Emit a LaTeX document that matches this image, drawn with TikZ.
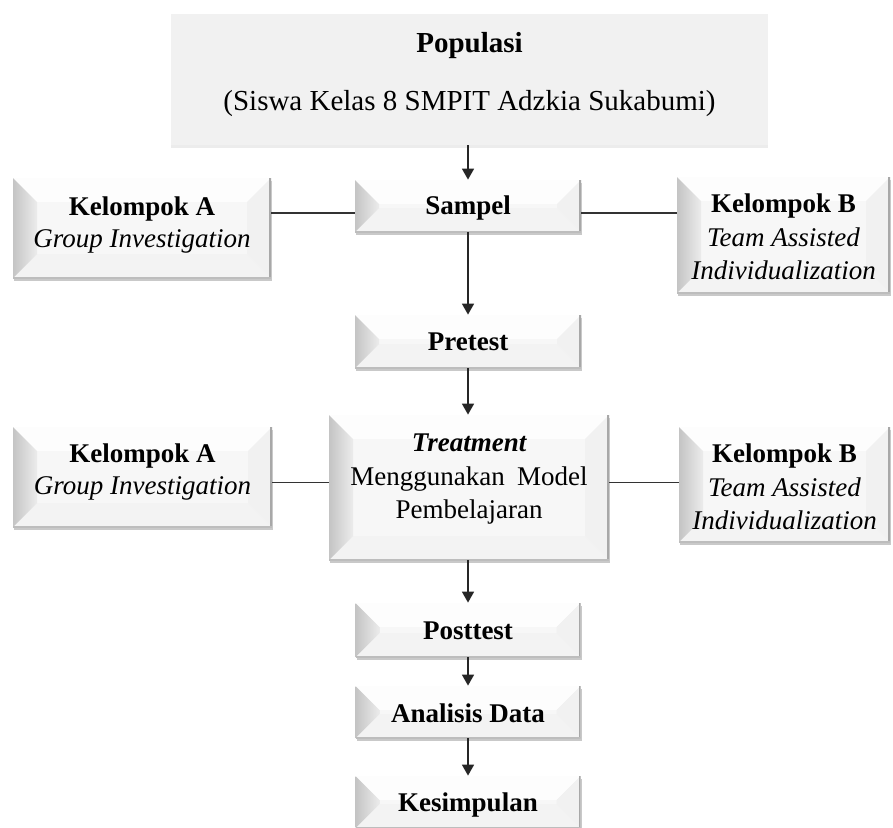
\documentclass[tikz,border=0pt]{standalone}
\usepackage{fontspec}
\setmainfont{Liberation Serif}
\usetikzlibrary{arrows.meta,shadows}
\definecolor{face}{HTML}{F7F7F7}
\definecolor{popfill}{HTML}{F1F1F1}
\definecolor{bevL}{HTML}{C4C4C4}
\definecolor{bevLi}{HTML}{ECECEC}
\definecolor{bevT}{HTML}{FDFDFD}
\definecolor{bevR}{HTML}{F1F1F1}
\definecolor{bevB}{HTML}{F3F3F3}
\definecolor{edgeR}{HTML}{A8A8A8}
\definecolor{edgeB}{HTML}{BDBDBD}
\tikzset{
  bev/.style={draw=none, fill=face, inner sep=0pt,
    drop shadow={shadow xshift=0.5pt,shadow yshift=-1.6pt,opacity=0.3,fill=black!70},
    path picture={
      \coordinate (ppnw) at (path picture bounding box.north west);
      \coordinate (ppne) at (path picture bounding box.north east);
      \coordinate (ppsw) at (path picture bounding box.south west);
      \coordinate (ppse) at (path picture bounding box.south east);
      \fill[bevT] (ppnw) -- (ppne) -- ([shift={(-12pt,-12pt)}]ppne) -- ([shift={(12pt,-12pt)}]ppnw) -- cycle;
      \fill[bevB] (ppsw) -- (ppse) -- ([shift={(-12pt,12pt)}]ppse) -- ([shift={(12pt,12pt)}]ppsw) -- cycle;
      \fill[bevR] (ppne) -- (ppse) -- ([shift={(-12pt,12pt)}]ppse) -- ([shift={(-12pt,-12pt)}]ppne) -- cycle;
      \shade[left color=bevL, right color=bevLi] (ppnw) -- (ppsw) -- ([shift={(12pt,12pt)}]ppsw) -- ([shift={(12pt,-12pt)}]ppnw) -- cycle;
      \draw[edgeR, line width=1.6pt] (ppne) -- (ppse);
      \draw[edgeB, line width=1.2pt] (ppsw) -- (ppse);
    }},
  popbox/.style={draw=none, fill=popfill, inner sep=0pt,
    drop shadow={shadow xshift=0pt,shadow yshift=-1.5pt,opacity=0.12,fill=black!60}},
  lbl/.style={anchor=base, inner sep=0pt, font=\fontsize{13.5pt}{16.5pt}\selectfont},
  blbl/.style={lbl, font=\fontsize{13.5pt}{16.5pt}\selectfont\bfseries},
  ilbl/.style={lbl, font=\fontsize{13.5pt}{16.5pt}\selectfont\itshape},
  arr/.style={-{Triangle[width=6pt,length=5.5pt]}, line width=0.8pt, black!85},
  conn/.style={line width=0.7pt, black!80}
}
\begin{document}
\begin{tikzpicture}[x=0.5pt,y=-0.5pt]
\useasboundingbox (0,0) rectangle (893,827);
% Populasi
\node[popbox, minimum width=298.5pt, minimum height=65.5pt] (pop) at (469.5,79.5) {};
\node[anchor=base, inner sep=0pt, font=\fontsize{14.5pt}{17pt}\selectfont\bfseries] (poptitle) at (469.5,52) {Populasi};
\node[anchor=base, inner sep=0pt, font=\fontsize{14.5pt}{17pt}\selectfont] (popsub) at (469.5,110) {(Siswa Kelas 8 SMPIT Adzkia Sukabumi)};
% Row 1
\node[bev, minimum width=113pt, minimum height=26pt] (sampel) at (468,206) {};
\node[blbl] at (468,214) {Sampel};
\node[bev, minimum width=129pt, minimum height=50pt] (kaT) at (142,228) {};
\node[blbl] at (142,215) {Kelompok A};
\node[ilbl] at (142,247) {Group Investigation};
\node[bev, minimum width=106.5pt, minimum height=58pt] (kbT) at (783.5,235) {};
\node[blbl] at (783.5,212) {Kelompok B};
\node[ilbl] at (783.5,246) {Team Assisted};
\node[ilbl] at (783.5,279) {Individualization};
% Pretest
\node[bev, minimum width=113pt, minimum height=26.5pt] (pre) at (468,341.5) {};
\node[blbl] at (468,350) {Pretest};
% Treatment row
\node[bev, minimum width=140pt, minimum height=72.5pt] (treat) at (469,487.5) {};
\node[ilbl, font=\fontsize{13.5pt}{16.5pt}\selectfont\bfseries\itshape] at (469,451) {Treatment};
\node[lbl] at (469,485) {Menggunakan\hskip 0.45em Model};
\node[lbl] at (469,518) {Pembelajaran};
\node[bev, minimum width=129.5pt, minimum height=50pt] (kaM) at (142.5,477) {};
\node[blbl] at (142.5,462) {Kelompok A};
\node[ilbl] at (142.5,494) {Group Investigation};
\node[bev, minimum width=105.5pt, minimum height=57.5pt] (kbM) at (784.5,484.5) {};
\node[blbl] at (784.5,462) {Kelompok B};
\node[ilbl] at (784.5,496) {Team Assisted};
\node[ilbl] at (784.5,529) {Individualization};
% Lower chain
\node[bev, minimum width=112.5pt, minimum height=27pt] (post) at (468,630) {};
\node[blbl] at (468,639) {Posttest};
\node[bev, minimum width=112.5pt, minimum height=26pt] (ana) at (468,712) {};
\node[blbl] at (468,722) {Analisis Data};
\node[bev, minimum width=112.5pt, minimum height=26pt] (kes) at (468,802) {};
\node[blbl] at (468,811) {Kesimpulan};
% Arrows
\draw[arr] (sampel.north |- pop.south) -- (sampel.north);
\draw[arr] (sampel.south) -- (pre.north);
\draw[arr] (pre.south) -- (pre.south |- treat.north);
\draw[arr] (pre.south |- treat.south) -- (post.north);
\draw[arr] (post.south) -- (ana.north);
\draw[arr] (ana.south) -- (kes.north);
% Connectors
\draw[conn] ([yshift=-3.5pt]sampel.west) -- ([yshift=-3.5pt]sampel.west -| kaT.east);
\draw[conn] ([yshift=-3.5pt]sampel.east) -- ([yshift=-3.5pt]sampel.east -| kbT.west);
\draw[conn] ([yshift=2.5pt]treat.west) -- ([yshift=2.5pt]treat.west -| kaM.east);
\draw[conn] ([yshift=2.5pt]treat.east) -- ([yshift=2.5pt]treat.east -| kbM.west);
\end{tikzpicture}
\end{document}
